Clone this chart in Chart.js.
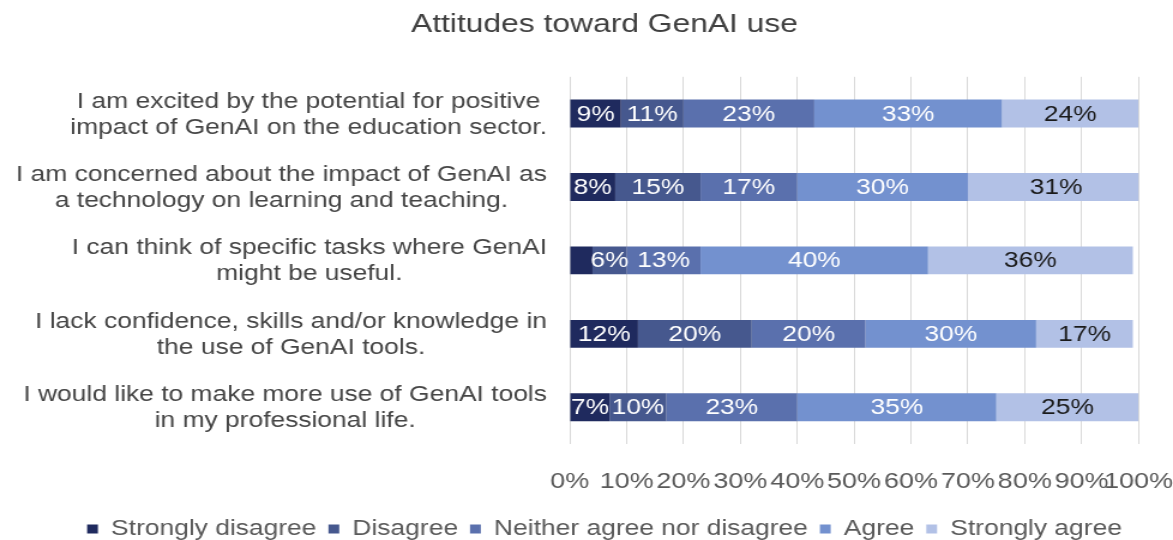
<!DOCTYPE html>
<html>
<head>
<meta charset="utf-8">
<script src="https://cdn.jsdelivr.net/npm/chart.js@4"></script>
<style>
  html, body { margin: 0; padding: 0; background: #fff; overflow: hidden; }
  /* o original tem o texto esticado na horizontal */
  #wrap { width: 978px; height: 540px; transform: scaleX(1.1994); transform-origin: 0 0; }
</style>
</head>
<body>
<div id="wrap"><canvas id="grafico"></canvas></div>
<script>
// categorias (cada uma em duas linhas)
const categorias = [
    ['I am excited by the potential for positive', 'impact of GenAI on the education sector.'],
    ['I am concerned about the impact of GenAI as', 'a technology on learning and teaching.'],
    ['I can think of specific tasks where GenAI', 'might be useful.'],
    ['I lack confidence, skills and/or knowledge in', 'the use of GenAI tools.'],
    ['I would like to make more use of GenAI tools', 'in my professional life.']
];

// valores (%) por série
const fortementeDiscordo = [9, 8, 4, 12, 7];
const discordo = [11, 15, 6, 20, 10];
const neutro = [23, 17, 13, 20, 23];
const concordo = [33, 30, 40, 30, 35];
const fortementeConcordo = [24, 31, 36, 17, 25];

const series = ['Strongly disagree', 'Disagree', 'Neither agree nor disagree', 'Agree', 'Strongly agree'];
const cores = ['#1f2a5e', '#46588e', '#5a70ad', '#7391cf', '#b2c1e6'];
const coresTexto = ['#ffffff', '#ffffff', '#ffffff', '#ffffff', '#1a1a1a'];
const fonte = '"Liberation Sans", Arial, sans-serif';

// rótulos dentro das barras
const rotulosPlugin = {
    id: 'rotulos',
    afterDatasetsDraw(chart) {
        const ctx = chart.ctx;
        ctx.save();
        ctx.font = '22px ' + fonte;
        ctx.textAlign = 'center';
        ctx.textBaseline = 'middle';
        chart.data.datasets.forEach((ds, i) => {
            const meta = chart.getDatasetMeta(i);
            meta.data.forEach((bar, j) => {
                const v = ds.data[j];
                if (v < 5) return; // rótulo não cabe
                ctx.fillStyle = coresTexto[i];
                ctx.fillText(v + '%', (bar.x + bar.base) / 2, bar.y + 1);
            });
        });
        ctx.restore();
    }
};

// categorias do eixo y: bloco alinhado à direita, linhas centradas (como no Excel)
const categoriasPlugin = {
    id: 'categorias',
    afterDraw(chart) {
        const ctx = chart.ctx;
        const eixoY = chart.scales.y;
        ctx.save();
        ctx.font = '22px ' + fonte;
        ctx.fillStyle = '#454545';
        ctx.textAlign = 'center';
        ctx.textBaseline = 'middle';
        categorias.forEach((linhas, i) => {
            const py = eixoY.getPixelForValue(i);
            const bloco = Math.max(...linhas.map(l => ctx.measureText(l).width));
            const cx = chart.chartArea.left - 19 - bloco / 2;
            linhas.forEach((l, k) => {
                ctx.fillText(l, cx, py + 1 + (k - (linhas.length - 1) / 2) * 26);
            });
        });
        ctx.restore();
    }
};

window.addEventListener("DOMContentLoaded", () => {
    const dados = [fortementeDiscordo, discordo, neutro, concordo, fortementeConcordo];
    const ctx = document.getElementById('grafico').getContext('2d');

    new Chart(ctx, {
        type: 'bar',
        data: {
            labels: categorias,
            datasets: series.map((nome, i) => ({
                label: nome,
                data: dados[i],
                backgroundColor: cores[i],
                borderWidth: 0,
                categoryPercentage: 1,
                barPercentage: 0.38
            }))
        },
        options: {
            indexAxis: 'y',
            responsive: true,
            maintainAspectRatio: false,
            animation: false,
            layout: { padding: { left: 34, right: 4, top: 4, bottom: -10 } },
            plugins: {
                title: {
                    display: true,
                    text: 'Attitudes toward GenAI use',
                    color: '#404040',
                    font: { family: fonte, size: 26.5, weight: 'normal' },
                    padding: { top: 5, bottom: 36 }
                },
                legend: {
                    position: 'bottom',
                    labels: {
                        color: '#595959',
                        font: { family: fonte, size: 22 },
                        usePointStyle: true,
                        pointStyle: 'rect',
                        boxWidth: 9,
                        boxHeight: 9,
                        padding: 10
                    }
                },
                tooltip: { enabled: false }
            },
            scales: {
                x: {
                    stacked: true,
                    min: 0,
                    max: 100,
                    afterFit: s => { s.height += 13; },
                    ticks: {
                        stepSize: 10,
                        color: '#595959',
                        font: { family: fonte, size: 22.5 },
                        padding: 0,
                        maxRotation: 0,
                        autoSkip: false,
                        callback: v => v + '%'
                    },
                    grid: { color: '#d9d9d9', drawTicks: true, tickLength: 24, tickColor: 'rgba(0,0,0,0)' },
                    border: { display: false }
                },
                y: {
                    stacked: true,
                    afterFit: s => { s.width = 441; },
                    ticks: { display: false },
                    grid: { display: false, drawTicks: false },
                    border: { display: false }
                }
            }
        },
        plugins: [rotulosPlugin, categoriasPlugin]
    });
});
</script>
</body>
</html>
